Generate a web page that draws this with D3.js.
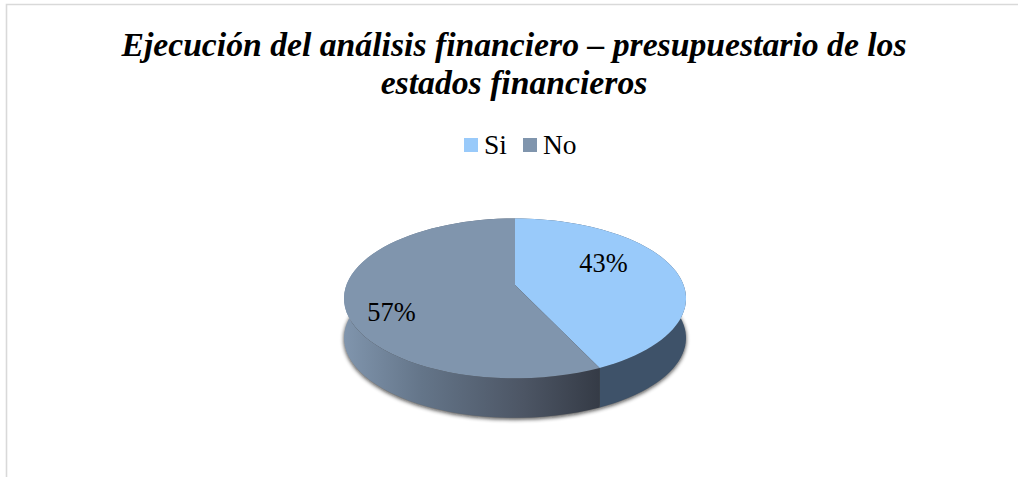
<!DOCTYPE html>
<html><head><meta charset="utf-8">
<script src="https://cdn.jsdelivr.net/npm/d3@7"></script>
<style>html,body{margin:0;padding:0;background:#fff;overflow:hidden}svg{display:block}text{font-family:"Liberation Serif","Times New Roman",serif;fill:#000}</style>
</head><body><svg id="c" width="1018" height="477"></svg>
<script>
const titleLines = ["Ejecución del análisis financiero – presupuestario de los","estados financieros"];
const categories = ["Si","No"];
const values = [43,57];
const labels = ["43%","57%"];
const colors = ["#99cafa","#8095ad"];

const svg = d3.select("#c");
const defs = svg.append("defs");
svg.append("path").attr("d","M1018,4.5H6.5V477").attr("fill","none").attr("stroke","#d9d9d9").attr("stroke-width",1.6);

svg.selectAll("text.title").data(titleLines).join("text").attr("class","title")
  .attr("x",514).attr("y",(d,i)=>55.5+i*38.5).attr("text-anchor","middle")
  .attr("font-size",33.7).attr("font-weight","bold").attr("font-style","italic").text(d=>d);

// legend
const lx=[464,523], tx=[484,543];
svg.selectAll("rect.sw").data(categories).join("rect").attr("class","sw")
  .attr("x",(d,i)=>lx[i]).attr("y",138).attr("width",14).attr("height",14).attr("fill",(d,i)=>colors[i]);
svg.selectAll("text.lg").data(categories).join("text").attr("class","lg")
  .attr("x",(d,i)=>tx[i]).attr("y",153.5).attr("font-size",27.5).text(d=>d);

// perspective disc projection
const cx=515, apexY=285, R=168.6, k=0.1677, b=77.7, depth=39.5;
const project=(a)=>{const x=Math.sin(a),y=-Math.cos(a),s=1/(1-k*y);return [cx+R*x*s,apexY+b*y*s];};
const arcs=d3.pie().sort(null)(values);
const sample=(a0,a1)=>d3.range(0,61).map(i=>project(a0+(a1-a0)*i/60));
const line=d3.line();

const sh=defs.append("filter").attr("id","shadow").attr("x","-20%").attr("y","-20%").attr("width","140%").attr("height","140%");
sh.append("feGaussianBlur").attr("stdDeviation",2);
const g1=defs.append("linearGradient").attr("id","wall1").attr("gradientUnits","userSpaceOnUse").attr("x1",344).attr("x2",602).attr("y1",0).attr("y2",0);
[[0,"#8095ad"],[0.3,"#647589"],[0.7,"#4c5564"],[1,"#343a45"]].forEach(s=>g1.append("stop").attr("offset",s[0]).attr("stop-color",s[1]));
const wallFill=["#3e5269","url(#wall1)"];

// shadow
const all=sample(0,2*Math.PI).map(p=>[p[0],p[1]+depth+1.5]);
svg.append("path").attr("d",line(all)+"Z").attr("fill","#111").attr("opacity",0.8).attr("filter","url(#shadow)");

// walls
svg.selectAll("path.wall").data(arcs).join("path").attr("class","wall")
  .attr("d",d=>{const top=sample(d.startAngle,d.endAngle);const bot=top.map(p=>[p[0],p[1]+depth]).reverse();return line(top.concat(bot))+"Z";})
  .attr("fill",(d,i)=>wallFill[i]);
// top faces
svg.selectAll("path.face").data(arcs).join("path").attr("class","face")
  .attr("d",d=>line([[cx,apexY]].concat(sample(d.startAngle,d.endAngle)))+"Z")
  .attr("fill",(d,i)=>colors[i]);

const px=[603.5,391.5], py=[271.5,320.5];
svg.selectAll("text.pct").data(labels).join("text").attr("class","pct")
  .attr("x",(d,i)=>px[i]).attr("y",(d,i)=>py[i]).attr("text-anchor","middle").attr("font-size",26.4).text(d=>d);
</script></body></html>
